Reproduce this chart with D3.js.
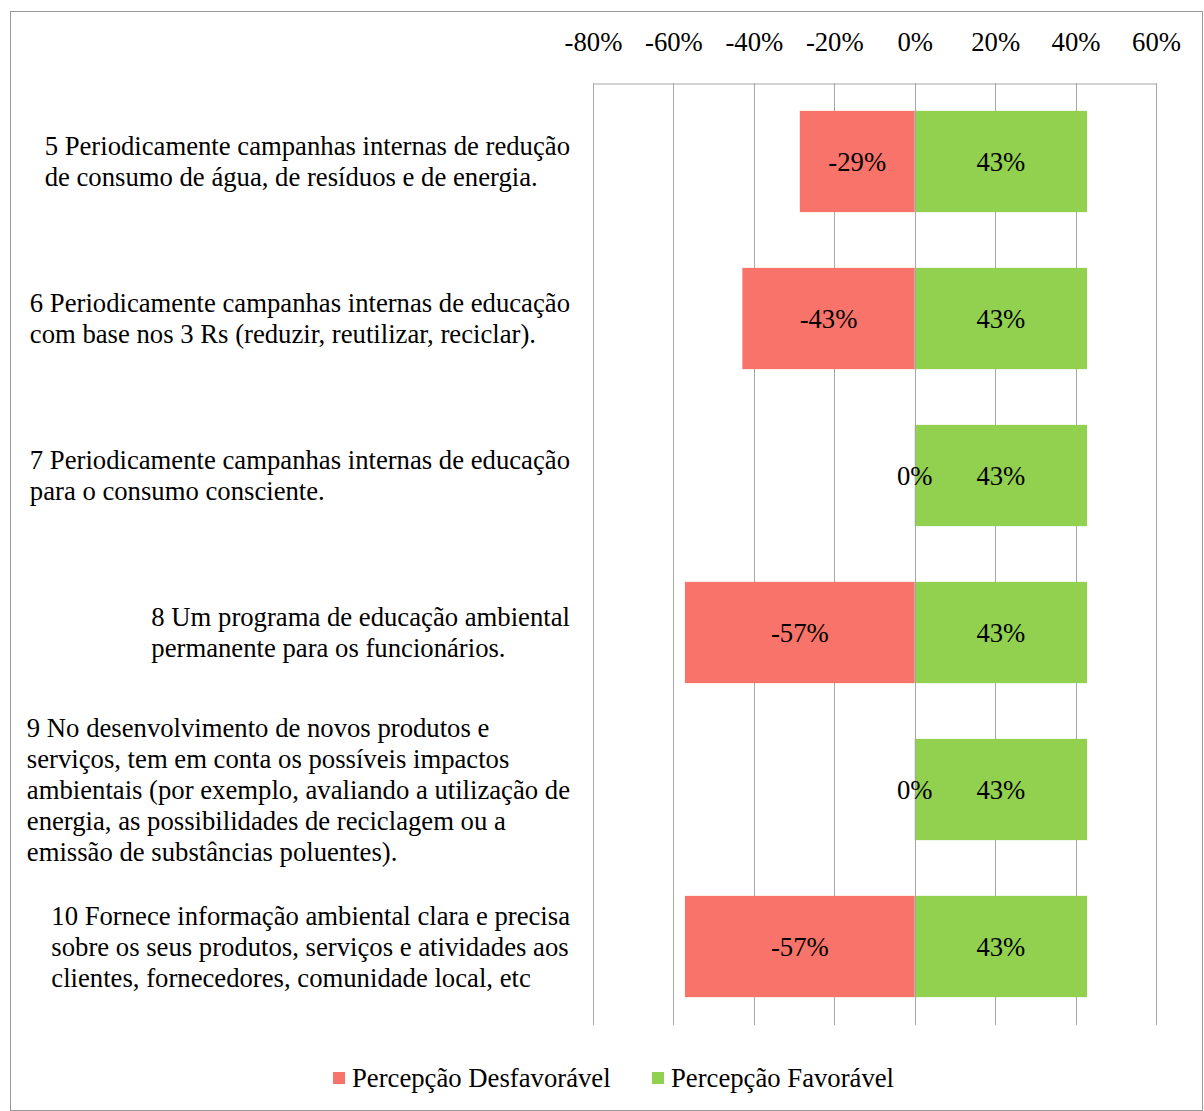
<!DOCTYPE html>
<html>
<head>
<meta charset="utf-8">
<script src="https://cdn.jsdelivr.net/npm/d3@7"></script>
<style>
  body { margin: 0; background: #fff; }
</style>
</head>
<body>
<div id="chart"></div>
<script>
// categories (each entry is the wrapped lines of one label)
const categories = [
  ["5 Periodicamente campanhas internas de redução", "de consumo de água, de resíduos e de energia."],
  ["6 Periodicamente campanhas internas de educação", "com base nos 3 Rs (reduzir, reutilizar, reciclar)."],
  ["7 Periodicamente campanhas internas de educação", "para o consumo consciente."],
  ["8 Um programa de educação ambiental", "permanente para os funcionários."],
  ["9 No desenvolvimento de novos produtos e", "serviços, tem em conta os possíveis impactos", "ambientais (por exemplo, avaliando a utilização de", "energia, as possibilidades de reciclagem ou a", "emissão de substâncias poluentes)."],
  ["10 Fornece informação ambiental clara e precisa", "sobre os seus produtos, serviços e atividades aos", "clientes, fornecedores, comunidade local, etc"]
];
const desfavoravel = [-0.2857, -0.4286, 0, -0.5714, 0, -0.5714];
const favoravel = [0.4286, 0.4286, 0.4286, 0.4286, 0.4286, 0.4286];
const xTicks = [-0.8, -0.6, -0.4, -0.2, 0, 0.2, 0.4, 0.6];
const seriesNames = ["Percepção Desfavorável", "Percepção Favorável"];
const colors = ["#F8736A", "#92D050"];

const W = 1204, H = 1111;
const plot = { left: 593, right: 1156, top: 83, bottom: 1025 };
const FONT = "'Liberation Serif', 'Times New Roman', serif";
const FS = "26.7px";

const svg = d3.select("#chart").append("svg")
    .attr("width", W)
    .attr("height", H);

// outer chart border
svg.append("rect")
    .attr("x", 10.5).attr("y", 11.5)
    .attr("width", W - 12).attr("height", H - 12)
    .attr("fill", "none")
    .attr("stroke", "#999")
    .attr("stroke-width", 1);

const x = d3.scaleLinear()
    .domain([-0.8, 0.6])
    .range([plot.left, plot.right]);

const y = d3.scaleBand()
    .domain(d3.range(categories.length))
    .range([plot.top, plot.bottom])
    .paddingInner(0.355)
    .paddingOuter(0.1775);

// vertical gridlines
svg.selectAll(".grid")
    .data(xTicks)
    .enter()
    .append("line")
        .attr("class", "grid")
        .attr("x1", d => Math.round(x(d)) + 0.5)
        .attr("x2", d => Math.round(x(d)) + 0.5)
        .attr("y1", plot.top)
        .attr("y2", plot.bottom)
        .attr("stroke", "#a6a6a6")
        .attr("stroke-width", 1);

// top axis
svg.append("g")
    .attr("transform", `translate(0,${plot.top + 0.5})`)
    .call(d3.axisTop(x).tickValues(xTicks).tickFormat(d => `${Math.round(d * 100)}%`).tickSize(0).tickPadding(33))
    .call(g => g.select(".domain").attr("stroke", "#a6a6a6"))
    .call(g => g.selectAll("text")
        .style("font-family", FONT)
        .style("font-size", FS)
        .attr("fill", "#000"));

const rows = categories.map((c, i) => ({ i, neg: desfavoravel[i], pos: favoravel[i] }));

// bars
svg.selectAll(".bar-neg")
    .data(rows)
    .enter()
    .append("rect")
        .attr("class", "bar-neg")
        .attr("x", d => x(d.neg))
        .attr("y", d => y(d.i))
        .attr("width", d => x(0) - x(d.neg))
        .attr("height", y.bandwidth())
        .attr("fill", colors[0]);

svg.selectAll(".bar-pos")
    .data(rows)
    .enter()
    .append("rect")
        .attr("class", "bar-pos")
        .attr("x", x(0))
        .attr("y", d => y(d.i))
        .attr("width", d => x(d.pos) - x(0))
        .attr("height", y.bandwidth())
        .attr("fill", colors[1]);

// zero line over the bars
svg.append("line")
    .attr("x1", Math.round(x(0)) + 0.5)
    .attr("x2", Math.round(x(0)) + 0.5)
    .attr("y1", plot.top)
    .attr("y2", plot.bottom)
    .attr("stroke", "#a6a6a6");

// data labels
const fmt = v => `${Math.round(v * 100)}%`;
svg.selectAll(".lbl-neg")
    .data(rows)
    .enter()
    .append("text")
        .attr("x", d => (x(d.neg) + x(0)) / 2)
        .attr("y", d => y(d.i) + y.bandwidth() / 2)
        .attr("dy", "0.35em")
        .attr("text-anchor", "middle")
        .style("font-family", FONT)
        .style("font-size", FS)
        .text(d => fmt(d.neg));

svg.selectAll(".lbl-pos")
    .data(rows)
    .enter()
    .append("text")
        .attr("x", d => (x(d.pos) + x(0)) / 2)
        .attr("y", d => y(d.i) + y.bandwidth() / 2)
        .attr("dy", "0.35em")
        .attr("text-anchor", "middle")
        .style("font-family", FONT)
        .style("font-size", FS)
        .text(d => fmt(d.pos));

// category labels: left-aligned block, block right edge at 570
const lineH = 31;
categories.forEach((lines, i) => {
    const g = svg.append("g");
    const cy = y(i) + y.bandwidth() / 2;
    const t = g.selectAll("text")
        .data(lines)
        .enter()
        .append("text")
            .attr("y", (d, k) => cy + (k - (lines.length - 1) / 2) * lineH)
            .attr("dy", "0.35em")
            .style("font-family", FONT)
            .style("font-size", FS)
            .text(d => d);
    let maxW = 0;
    t.each(function() { maxW = Math.max(maxW, this.getComputedTextLength()); });
    t.attr("x", 570 - maxW);
});

// legend
const legend = svg.append("g").attr("transform", `translate(0,1078)`);
const legX = [333, 652];
seriesNames.forEach((name, i) => {
    legend.append("rect")
        .attr("x", legX[i]).attr("y", -6)
        .attr("width", 12).attr("height", 12)
        .attr("fill", colors[i]);
    legend.append("text")
        .attr("x", legX[i] + 19)
        .attr("y", 0)
        .attr("dy", "0.35em")
        .style("font-family", FONT)
        .style("font-size", FS)
        .text(name);
});
</script>
</body>
</html>
